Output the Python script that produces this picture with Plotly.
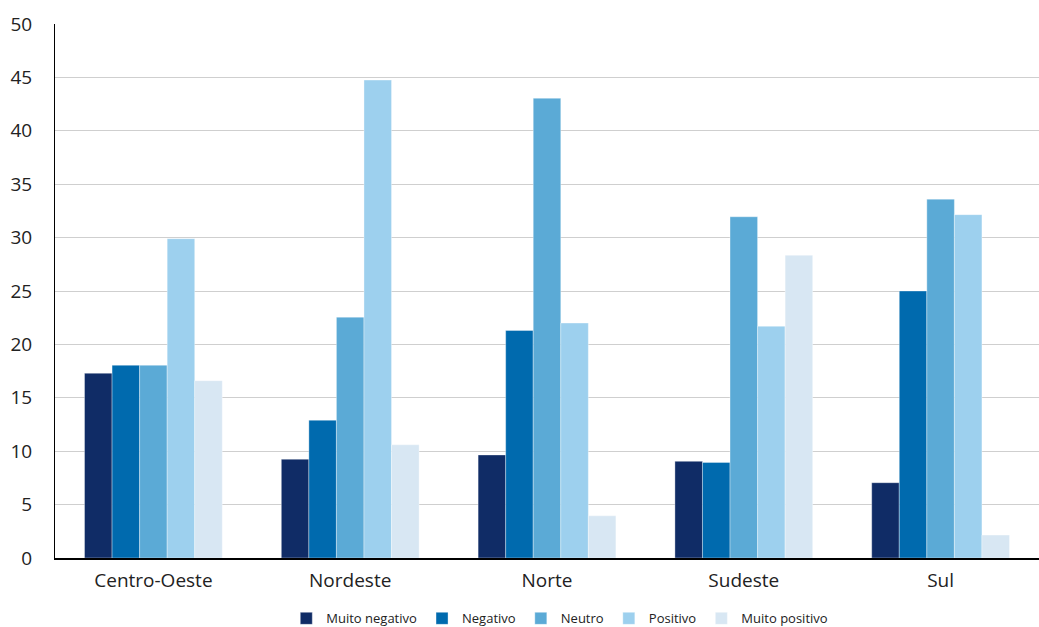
import plotly.graph_objects as go

regions = ["Centro-Oeste", "Nordeste", "Norte", "Sudeste", "Sul"]
series_names = ["Muito negativo", "Negativo", "Neutro", "Positivo", "Muito positivo"]
muito_negativo = [17.3, 9.25, 9.65, 9.05, 7.05]
negativo = [18.05, 12.9, 21.3, 8.95, 25.0]
neutro = [18.05, 22.55, 43.05, 31.95, 33.6]
positivo = [29.9, 44.75, 22.0, 21.7, 32.15]
muito_positivo = [16.6, 10.6, 3.95, 28.35, 2.15]
colors = ["#102C66", "#006AAE", "#5BAAD6", "#9DD0EE", "#D8E7F3"]
y_ticks = [0, 5, 10, 15, 20, 25, 30, 35, 40, 45, 50]

values = [muito_negativo, negativo, neutro, positivo, muito_positivo]

fig = go.Figure()
for name, vals, col in zip(series_names, values, colors):
    fig.add_trace(go.Bar(
        x=regions, y=vals, name=name,
        marker=dict(color=col, line=dict(color="rgba(255,255,255,0.35)", width=1)),
    ))

fig.update_layout(
    width=1039, height=627,
    barmode="group", bargap=0.30, bargroupgap=0,
    plot_bgcolor="white", paper_bgcolor="white",
    margin=dict(l=55, r=0, t=24, b=69, autoexpand=False),
    font=dict(family="Open Sans, Noto Sans, sans-serif", color="#222222"),
    showlegend=True,
    legend=dict(orientation="h", x=0.513, xanchor="center", y=-0.085, yanchor="top",
                font=dict(size=13, color="#222222"), traceorder="normal",
                itemwidth=30, tracegroupgap=0),
)
fig.update_yaxes(
    range=[0, 50], tickvals=y_ticks, ticktext=[str(t) for t in y_ticks],
    showgrid=True, gridcolor="#cfcfcf", gridwidth=1,
    showline=True, linecolor="#000000", linewidth=1,
    ticks="", tickfont=dict(size=19, color="#222222"), ticklabelstandoff=18,
    zeroline=False, automargin=False,
)
fig.update_xaxes(
    showline=True, linecolor="#000000", linewidth=1.5,
    ticks="", tickfont=dict(size=19, color="#222222"), ticklabelstandoff=4,
    automargin=False,
)

fig.write_html("out.html", config={"displayModeBar": False},
               post_script="document.body.style.margin='0';document.body.style.overflow='hidden';")
